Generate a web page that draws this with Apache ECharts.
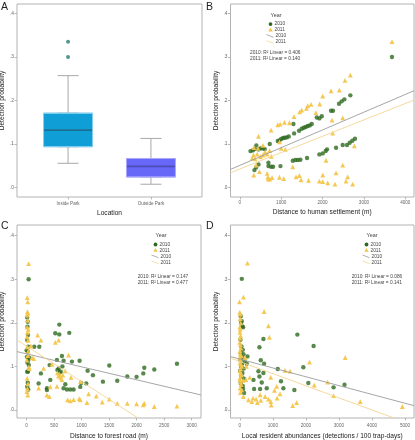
<!DOCTYPE html>
<html><head><meta charset="utf-8">
<script src="https://cdn.jsdelivr.net/npm/echarts@6/dist/echarts.min.js"></script>
<style>html,body{margin:0;padding:0;background:#fff}#c{width:415px;height:440px}</style>
</head><body><div id="c"></div>
<script>
// ---------- DATA ----------
const locationCategories = ['Inside Park', 'Outside Park'];
// [min, Q1, median, Q3, max]
const boxInside = [0.056, 0.094, 0.132, 0.171, 0.257];
const boxOutside = [0.008, 0.0245, 0.049, 0.067, 0.113];
const outliersInside = [0.335, 0.300];

const yTickValues = [0, 0.1, 0.2, 0.3, 0.4];
const yTickLabels = ['.0', '.1', '.2', '.3', '.4'];
const settlementTicks = [0, 1000, 2000, 3000, 4000];
const roadTicks = [0, 500, 1000, 1500, 2000, 2500, 3000];
const residentTicks = [0, 1000, 2000, 3000, 4000, 5000];

const yearNames = ['2010', '2011'];
const settlementR2 = ['0.406', '0.140'];
const roadR2 = ['0.147', '0.477'];
const residentR2 = ['0.086', '0.141'];

// Panel B: distance to human settlement (m) vs detection probability
const settlement2010 = [[258,0.084],[314,0.0856],[362,0.0886],[400,0.097],[451,0.0879],[499,0.0902],[555,0.0902],[603,0.0886],[724,0.1001],[917,0.107],[958,0.1085],[998,0.1116],[1046,0.1139],[1086,0.1146],[1135,0.1154],[1183,0.1177],[1296,0.146],[1312,0.1246],[1432,0.1307],[1497,0.1353],[1545,0.1376],[1593,0.1391],[1642,0.1414],[1690,0.1429],[1738,0.146],[1860,0.161],[1923,0.159],[1980,0.164],[2205,0.1766],[2253,0.1766],[2398,0.1927],[2462,0.198],[2527,0.2026],[2672,0.2118],[3678,0.2998],
  [354,0.0404],[394,0.0466],[451,0.0535],[692,0.0573],[692,0.0496],[756,0.048],[805,0.048],[982,0.0496],[1280,0.0618],[1344,0.0634],[1400,0.0634],[1464,0.0642],[1625,0.068],[1923,0.0764],[2004,0.0787],[2076,0.0841],[2108,0.088],[2326,0.0917],[2487,0.098],[2591,0.098],[2656,0.1032],[2720,0.1078],[2784,0.1124]];
const settlement2011 = [[300,0.068],[330,0.075],[340,0.092],[370,0.066],[420,0.077],[440,0.090],[451,0.118],[500,0.071],[560,0.075],[560,0.097],[610,0.082],[660,0.077],[720,0.085],[756,0.132],[760,0.072],[917,0.144],[960,0.105],[974,0.146],[1000,0.090],[1078,0.150],[1100,0.088],[1199,0.149],[1310,0.163],[1448,0.174],[1497,0.178],[1609,0.182],[1642,0.188],[1722,0.191],[1840,0.172],[1931,0.192],[2004,0.210],[2205,0.222],[2229,0.155],[2245,0.125],[2406,0.224],[2487,0.160],[2543,0.246],[2672,0.258],[2768,0.096],[3678,0.335],
  [338,0.029],[394,0.052],[475,0.037],[660,0.033],[676,0.024],[692,0.020],[724,0.020],[780,0.023],[958,0.024],[1062,0.021],[1280,0.048],[1360,0.025],[1440,0.028],[1480,0.018],[1660,0.017],[1923,0.015],[2004,0.014],[2084,0.063],[2004,0.029],[2124,0.011],[2301,0.008],[2326,0.034],[2487,0.052],[2567,0.015],[2607,0.025],[2728,0.008]];
const settlementFit2010 = [[-225,0.042],[4210,0.2225]];
const settlementFit2011 = [[-225,0.0344],[4210,0.201]];

// Panel C: distance to forest road (m)
const road2010 = [[36,0.300],[10,0.2125],[20,0.2026],[15,0.191],[25,0.172],[10,0.1605],[30,0.145],[0,0.137],[20,0.134],[5,0.122],[45,0.12],[30,0.1146],[15,0.109],[40,0.103],[10,0.088],[25,0.088],[20,0.0626],[10,0.0534],[30,0.047],
  [594,0.196],[521,0.176],[594,0.1735],[775,0.177],[139,0.145],[230,0.145],[418,0.103],[672,0.113],[551,0.115],[642,0.124],[582,0.0955],[600,0.086],[560,0.092],[620,0.088],[650,0.1],[824,0.111],[963,0.113],[1109,0.090],[1206,0.080],[1084,0.061],[1387,0.065],[260,0.084],[218,0.061],[430,0.069],[369,0.050],[369,0.046],[703,0.059],[672,0.050],[733,0.047],[794,0.047],[854,0.047],[975,0.053],[990,0.062],
  [1503,0.102],[1648,0.067],[1830,0.077],[1999,0.076],[2121,0.084],[2139,0.097],[2321,0.093],[2733,0.106]];
const road2011 = [[36,0.336],[10,0.258],[20,0.248],[15,0.2255],[25,0.222],[5,0.218],[20,0.206],[10,0.19],[30,0.185],[15,0.178],[5,0.168],[25,0.16],[10,0.145],[30,0.135],[20,0.125],[5,0.1146],[40,0.099],[50,0.095],[10,0.0725],[25,0.06],[15,0.049],[5,0.042],[20,0.034],
  [200,0.172],[260,0.1605],[582,0.1605],[521,0.155],[78,0.147],[100,0.12],[130,0.118],[763,0.126],[309,0.0955],[460,0.105],[560,0.085],[580,0.078],[600,0.082],[620,0.075],[640,0.07],[660,0.08],[700,0.09],[806,0.075],[980,0.065],[430,0.053],[369,0.034],[412,0.031],[218,0.050],[551,0.054],[745,0.023],[794,0.021],[854,0.024],[975,0.023],[957,0.026],[1097,0.017],[1127,0.037],[1266,0.032],[1375,0.018],[1503,0.025],[1648,0.015],[1830,0.015],[1999,0.014],[2121,0.012],[2139,0.015],[2321,0.008],[2733,0.009]];
const roadFit2010 = [[-175,0.134],[3170,0.0344]];
const roadFit2011 = [[-175,0.1606],[2020,-0.018]];

// Panel D: local resident abundances (detections / 100 trap-days)
const resident2010 = [[61,0.301],[30,0.215],[60,0.204],[40,0.200],[80,0.192],[100,0.190],[20,0.161],[50,0.146],[90,0.138],[30,0.130],[110,0.128],[60,0.120],[20,0.115],[140,0.112],[70,0.106],[40,0.100],[120,0.095],[10,0.090],[80,0.085],[50,0.077],[130,0.072],[30,0.062],[90,0.055],[100,0.048],[130,0.039],[232,0.123],[212,0.106],
  [595,0.144],[715,0.163],[1742,0.173],[2234,0.147],[635,0.114],[735,0.106],[1148,0.094],[565,0.089],[595,0.077],[715,0.085],[1923,0.098],[414,0.069],[665,0.063],[1248,0.066],[816,0.050],[1319,0.050],[1651,0.046],[2074,0.062],[434,0.048],[615,0.048],[2838,0.052],[3170,0.058]];
const resident2011 = [[232,0.337],[-9,0.248],[112,0.259],[0,0.224],[20,0.22],[10,0.21],[30,0.2],[0,0.19],[15,0.185],[5,0.178],[25,0.17],[10,0.165],[0,0.155],[20,0.15],[35,0.142],[5,0.135],[15,0.128],[45,0.124],[0,0.12],[25,0.115],[10,0.108],[40,0.104],[60,0.1],[20,0.095],[5,0.09],[30,0.085],[50,0.08],[15,0.075],[0,0.07],[100,0.068],[25,0.064],[40,0.058],[10,0.05],[60,0.046],[20,0.04],[110,0.031],[180,0.07],[160,0.12],[200,0.1],[300,0.075],
  [263,0.023],[363,0.019],[400,0.027],[494,0.025],[534,0.017],[635,0.022],[615,0.035],[766,0.031],[866,0.025],[937,0.0195],[950,0.011],[1050,0.045],[1118,0.054],[1130,0.027],[1218,0.037],[1601,0.010],[1721,0.017],[736,0.226],[866,0.193],[896,0.167],[1369,0.091],[1520,0.089],[2110,0.110],[937,0.075],[3190,0.1205],[2657,0.064],[2254,0.057],[2838,0.033],[3643,0.019],[4920,0.008]];
const residentFit2010 = [[-281,0.1225],[5272,0.0099]];
const residentFit2011 = [[-281,0.119],[4650,-0.018]];

// ---------- STYLE ----------
const FONT = 'Liberation Sans, Arial, Helvetica, sans-serif';
const GREEN = '#2f6a20';
const GOLD = '#f4c54a';
const LINE10 = '#9c9c9c';
const LINE11 = '#f3d595';
const AXIS_GRAY = '#a9a9a9';
const TXT = '#222';

const chart = echarts.init(document.getElementById('c'), null, {renderer: 'canvas'});

function gridDef(left, top, width, height) {
  return {left, top, width, height, show: true, borderColor: '#b3b3b3', borderWidth: 1,
          backgroundColor: '#fff', containLabel: false, outerBoundsMode: 'none'};
}
function yAxisDef(idx, min, max) {
  return {
    gridIndex: idx, type: 'value', min, max,
    axisLine: {show: false, onZero: false}, splitLine: {show: false},
    axisTick: {show: true, customValues: yTickValues, length: 2.5, lineStyle: {color: AXIS_GRAY, width: 0.8}},
    axisLabel: {customValues: yTickValues, fontSize: 4.8, color: '#666', margin: 3, fontFamily: FONT,
      formatter: v => yTickLabels[yTickValues.findIndex(t => Math.abs(t - v) < 1e-9)]},
    name: 'Detection probability', nameLocation: 'middle', nameGap: 11,
    nameTextStyle: {fontSize: 6.6, color: TXT, fontFamily: FONT}
  };
}
function xAxisDef(idx, min, max, ticks, name, labelMargin, nameGap, fmt) {
  return {
    gridIndex: idx, type: 'value', min, max,
    axisLine: {show: false, onZero: false}, splitLine: {show: false},
    axisTick: {show: true, customValues: ticks, length: 2.5, lineStyle: {color: AXIS_GRAY, width: 0.8}},
    axisLabel: {customValues: ticks, fontSize: 4.6, color: '#666', margin: labelMargin, fontFamily: FONT,
      formatter: fmt || (v => String(v))},
    name, nameLocation: 'middle', nameGap,
    nameTextStyle: {fontSize: 6.6, color: TXT, fontFamily: FONT}
  };
}

function scatterPair(idx, d10, d11) {
  return [
    {type: 'scatter', name: yearNames[0], xAxisIndex: idx, yAxisIndex: idx, data: d10,
     symbol: 'circle', symbolSize: 4.4, itemStyle: {color: GREEN}, silent: true, z: 3},
    {type: 'scatter', name: yearNames[1], xAxisIndex: idx, yAxisIndex: idx, data: d11,
     symbol: 'triangle', symbolSize: 4.8, itemStyle: {color: GOLD, opacity: 0.95}, silent: true, z: 3}
  ];
}
function fitPair(idx, f10, f11) {
  return [
    {type: 'line', xAxisIndex: idx, yAxisIndex: idx, data: f10, showSymbol: false, symbol: 'none',
     lineStyle: {color: LINE10, width: 0.9}, silent: true, z: 4, clip: true},
    {type: 'line', xAxisIndex: idx, yAxisIndex: idx, data: f11, showSymbol: false, symbol: 'none',
     lineStyle: {color: LINE11, width: 0.9}, silent: true, z: 4, clip: true}
  ];
}

function legendBlock(cx, cy, r2x, r2y, r2vals) {
  const fs = 4.8;
  const t = (text, x, y, align, size) => ({type: 'text', x, y, silent: true,
    style: {text, fill: '#444', fontSize: size || fs, fontFamily: FONT,
            align: align || 'left', verticalAlign: 'middle', textAlign: align || 'left', textVerticalAlign: 'middle'}});
  const ix = cx - 5.5;
  return [
    t('Year', cx, cy, 'center', 5.4),
    {type: 'circle', silent: true, shape: {cx: ix, cy: cy + 8.8, r: 1.9}, style: {fill: GREEN}},
    t(yearNames[0], ix + 4, cy + 8.8),
    {type: 'polygon', silent: true, shape: {points: [[ix, cy + 12.3], [ix - 2.2, cy + 16.1], [ix + 2.2, cy + 16.1]]}, style: {fill: GOLD}},
    t(yearNames[1], ix + 4, cy + 14.5),
    {type: 'line', silent: true, shape: {x1: ix - 4, y1: cy + 19.3, x2: ix + 3, y2: cy + 22}, style: {stroke: LINE10, lineWidth: 0.8}},
    t(yearNames[0], ix + 5, cy + 20.8),
    {type: 'line', silent: true, shape: {x1: ix - 4, y1: cy + 25.3, x2: ix + 3, y2: cy + 28}, style: {stroke: LINE11, lineWidth: 0.8}},
    t(yearNames[1], ix + 5, cy + 26.8),
    t(yearNames[0] + ': R\u00b2 Linear = ' + r2vals[0], r2x, r2y),
    t(yearNames[1] + ': R\u00b2 Linear = ' + r2vals[1], r2x, r2y + 6)
  ];
}
function letter(text, x, y) {
  return {type: 'text', x, y, silent: true,
    style: {text, fill: TXT, fontSize: 10.5, fontFamily: FONT, align: 'left', verticalAlign: 'middle',
            textAlign: 'left', textVerticalAlign: 'middle'}};
}

const option = {
  animation: false,
  backgroundColor: '#fff',
  textStyle: {fontFamily: FONT},
  grid: [
    gridDef(17, 4, 185, 193),
    gridDef(230.5, 4, 183.5, 193),
    gridDef(17, 225, 184, 193),
    gridDef(230.5, 225, 183.5, 193)
  ],
  xAxis: [
    xAxisDef(0, -0.616, 1.616, [0, 1], 'Location', 4, 12.5, v => locationCategories[Math.round(v)]),
    xAxisDef(1, -225, 4210, settlementTicks, 'Distance to human settlement (m)', 3, 11.5),
    xAxisDef(2, -175, 3170, roadTicks, 'Distance to forest road (m)', 5.5, 14.5),
    xAxisDef(3, -281, 5272, residentTicks, 'Local resident abundances (detections / 100 trap-days)', 5.5, 14.5),
    // hidden twin of panel A's axis so the whisker and box layers are not placed side by side
    {gridIndex: 0, type: 'value', min: -0.616, max: 1.616, show: false}
  ],
  yAxis: [
    yAxisDef(0, -0.0213, 0.4213),
    yAxisDef(1, -0.0213, 0.4213),
    yAxisDef(2, -0.0184, 0.4246),
    yAxisDef(3, -0.0184, 0.4246)
  ],
  series: [
    // whiskers
    {type: 'boxplot', xAxisIndex: 4, yAxisIndex: 0, boxWidth: [21, 21], silent: true,
     itemStyle: {color: '#fff', borderColor: '#a8a8a8', borderWidth: 1},
     data: [[0].concat(boxInside), [1].concat(boxOutside)]},
    // boxes
    {type: 'boxplot', xAxisIndex: 0, yAxisIndex: 0, boxWidth: [49, 49], silent: true,
     data: [
       {value: [0, boxInside[1], boxInside[1], boxInside[2], boxInside[3], boxInside[3]],
        itemStyle: {color: '#0f9ed5', borderColor: '#86cfee', borderWidth: 1}},
       {value: [1, boxOutside[1], boxOutside[1], boxOutside[2], boxOutside[3], boxOutside[3]],
        itemStyle: {color: '#6767f8', borderColor: '#a8a8ff', borderWidth: 1}}
     ]},
    // medians
    {type: 'scatter', xAxisIndex: 0, yAxisIndex: 0, symbol: 'rect', symbolSize: [48, 1.6], silent: true, z: 5,
     data: [{value: [0, boxInside[2]], itemStyle: {color: '#0b5a7c'}},
            {value: [1, boxOutside[2]], itemStyle: {color: '#3a3aa8'}}]},
    // outliers
    {type: 'scatter', xAxisIndex: 0, yAxisIndex: 0, symbol: 'circle', symbolSize: 4, silent: true, z: 5,
     itemStyle: {color: '#2b7c7a'}, data: outliersInside.map(v => [0, v])},
    ...scatterPair(1, settlement2010, settlement2011),
    ...fitPair(1, settlementFit2010, settlementFit2011),
    ...scatterPair(2, road2010, road2011),
    ...fitPair(2, roadFit2010, roadFit2011),
    ...scatterPair(3, resident2010, resident2011),
    ...fitPair(3, residentFit2010, residentFit2011)
  ],
  graphic: [
    letter('A', 1, 7),
    letter('B', 206, 7),
    letter('C', 1, 226),
    letter('D', 206, 226),
    ...legendBlock(276, 15.3, 250, 53, settlementR2),
    ...legendBlock(161, 235.7, 137.7, 276.3, roadR2),
    ...legendBlock(372, 235.7, 351.7, 276.3, residentR2)
  ]
};
chart.setOption(option);
</script>
</body></html>
